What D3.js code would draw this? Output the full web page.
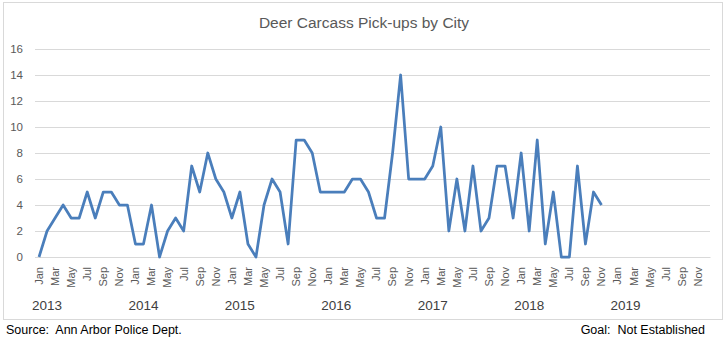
<!DOCTYPE html>
<html>
<head>
<meta charset="utf-8">
<script src="https://cdn.jsdelivr.net/npm/d3@7"></script>
<style>
  html, body { margin: 0; padding: 0; background: #fff; }
  svg { display: block; font-family: "Liberation Sans", Arial, sans-serif; }
  .pre { white-space: pre; }
</style>
</head>
<body>
<svg id="chart" width="726" height="341"></svg>
<script>
const title = "Deer Carcass Pick-ups by City";
const years = [2013, 2014, 2015, 2016, 2017, 2018, 2019];
const monthNames = ["Jan","Feb","Mar","Apr","May","Jun","Jul","Aug","Sep","Oct","Nov","Dec"];
const values = [
  0, 2, 3, 4, 3, 3, 5, 3, 5, 5, 4, 4,      // 2013
  1, 1, 4, 0, 2, 3, 2, 7, 5, 8, 6, 5,      // 2014
  3, 5, 1, 0, 4, 6, 5, 1, 9, 9, 8, 5,      // 2015
  5, 5, 5, 6, 6, 5, 3, 3, 8, 14, 6, 6,     // 2016
  6, 7, 10, 2, 6, 2, 7, 2, 3, 7, 7, 3,     // 2017
  8, 2, 9, 1, 5, 0, 0, 7, 1, 5, 4          // 2018
];
const yTicks = [0, 2, 4, 6, 8, 10, 12, 14, 16];
const sourceText = "Source:  Ann Arbor Police Dept.";
const goalText = "Goal:  Not Established";

const categories = [];
years.forEach(y => monthNames.forEach((m, i) => categories.push({key: y + "-" + i, year: y, month: m, mi: i})));

const svg = d3.select("#chart");
const mLeft = 35, mRight = 710, mTop = 49, mBottom = 257;

// chart border
svg.append("rect").attr("x", 3.5).attr("y", 2.5).attr("width", 719).attr("height", 317)
  .attr("fill", "#fff").attr("stroke", "#d9d9d9").attr("stroke-width", 1);

const x = d3.scaleBand().domain(categories.map(d => d.key)).range([mLeft, mRight]).padding(0);
const y = d3.scaleLinear().domain([0, 16]).range([mBottom, mTop]);

// title
svg.append("text").attr("x", 364).attr("y", 28).attr("text-anchor", "middle")
  .attr("font-size", 15.5).attr("fill", "#595959").text(title);

// gridlines
const yAxis = d3.axisLeft(y).tickValues(yTicks).tickSize(-(mRight - mLeft)).tickPadding(12);
const gy = svg.append("g").attr("transform", `translate(${mLeft},0)`).call(yAxis);
gy.select(".domain").remove();
gy.selectAll(".tick line").attr("stroke", "#d9d9d9").attr("stroke-width", 1);
gy.selectAll(".tick text").attr("font-size", 11.5).attr("fill", "#595959")
  .attr("font-family", "Liberation Sans, Arial, sans-serif");

// month axis
const monthTicks = categories.filter(d => d.mi % 2 === 0).map(d => d.key);
const xAxis = d3.axisBottom(x).tickValues(monthTicks).tickSize(0)
  .tickFormat(k => categories.find(c => c.key === k).month);
const gx = svg.append("g").attr("transform", `translate(0,${mBottom})`).call(xAxis);
gx.select(".domain").attr("stroke", "#d9d9d9");
gx.selectAll(".tick text")
  .attr("font-size", 11).attr("fill", "#595959")
  .attr("font-family", "Liberation Sans, Arial, sans-serif")
  .attr("text-anchor", "end")
  .attr("transform", "rotate(-90)")
  .attr("x", -10).attr("y", 0).attr("dy", "0.35em");

// year labels
svg.append("g").selectAll("text").data(years).join("text")
  .attr("x", d => x(d + "-0") + x.bandwidth() / 2 + 8)
  .attr("y", 310).attr("text-anchor", "middle")
  .attr("font-size", 13.5).attr("fill", "#404040")
  .text(d => d);

// line
const series = values.map((v, i) => ({key: categories[i].key, v}));
const line = d3.line().x(d => x(d.key) + x.bandwidth() / 2).y(d => y(d.v));
svg.append("path").datum(series).attr("d", line)
  .attr("fill", "none").attr("stroke", "#4a7ebb").attr("stroke-width", 2.75)
  .attr("stroke-linejoin", "round");

// footer
svg.append("text").attr("class", "pre").attr("x", 6).attr("y", 334).attr("font-size", 12.5).attr("fill", "#000").text(sourceText);
svg.append("text").attr("class", "pre").attr("x", 705).attr("y", 334).attr("text-anchor", "end").attr("font-size", 12.5).attr("fill", "#000").text(goalText);
</script>
</body>
</html>
